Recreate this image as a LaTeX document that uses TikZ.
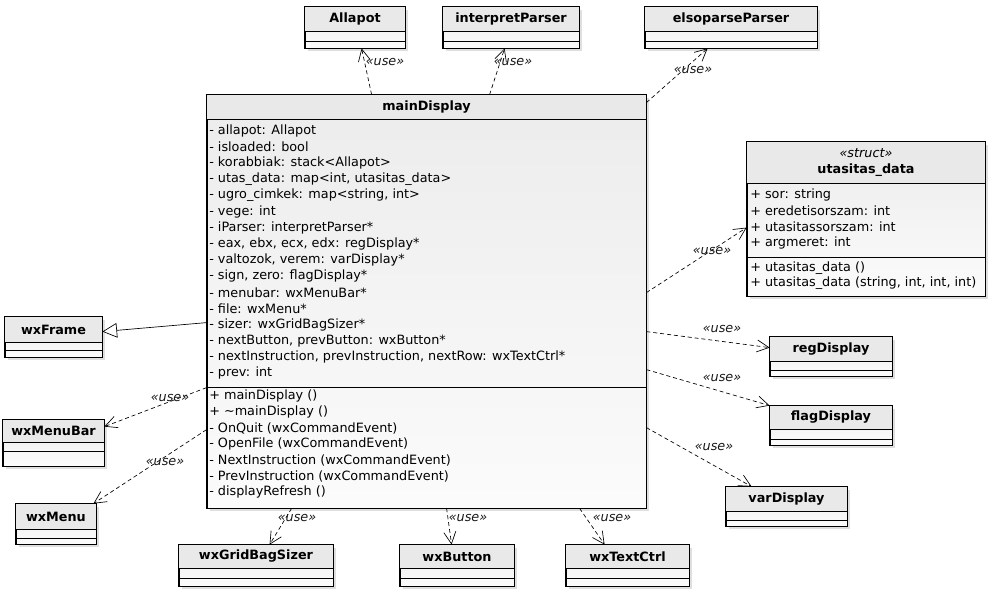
\documentclass[tikz,border=0pt]{standalone}
\usepackage{fontspec}
\setmainfont{DejaVu Sans}
\usepackage{tikz}
\usetikzlibrary{arrows.meta, calc, fit}

\newcommand{\umlfont}{\fontsize{9.6}{11.5}\selectfont}

\tikzset{
  classbox/.style={draw, line width=0.6pt, inner sep=0pt, top color=gray!15, bottom color=gray!3},
  hdrfill/.style={fill=gray!17},
  clsname/.style={font=\umlfont\bfseries, inner sep=0pt, align=center},
  member/.style={font=\umlfont, anchor=west, inner sep=0pt},
  stereo/.style={font=\umlfont\itshape, text=gray!20!black, inner sep=0.5pt},
  usedep/.style={line width=0.5pt, dash pattern=on 3pt off 2.2pt, -{Straight Barb[length=9pt, width=9pt]}},
  inherit/.style={line width=0.5pt, -{Triangle[open, length=11pt, width=11pt, fill=white]}},
}

% name, x1, y1, x2, header bottom, attr bottom, y2, title
\newcommand{\umlclass}[8]{%
  \fill[gray!50, opacity=0.5] (#2+3,#3+3) rectangle (#4+3,#7+3);
  \node[classbox, fit={(#2,#3) (#4,#7)}] (#1) {};
  \fill[hdrfill] (#2,#3) rectangle (#4,#5);
  \draw[line width=0.6pt] (#2,#5) -- (#4,#5) (#2,#6) -- (#4,#6);
  \draw[line width=0.6pt] (#1.north west) rectangle (#1.south east);
  \node[clsname] (#1-name) at ($(#2,#3)!0.5!(#4,#5)$) {#8};
}

\begin{document}
\begin{tikzpicture}[x=0.75pt, y=-0.75pt]
  \useasboundingbox (0,0) rectangle (995,589);

  % classes
  \umlclass{allapot}{305}{7}{405}{31}{41}{48}{Allapot}
  \umlclass{interp}{443}{7}{579}{31}{41}{48}{interpretParser}
  \umlclass{elso}{645}{7}{817}{31}{41}{48}{elsoparseParser}
  \umlclass{md}{207}{95}{646}{119}{387}{508}{mainDisplay}
  \umlclass{ut}{747}{142}{985}{183}{257}{296}{{\mdseries\itshape «struct»}\\[1pt]utasitas\_data}
  \umlclass{frame}{5}{317}{102}{342}{350}{357}{wxFrame}
  \umlclass{menubar}{3}{420}{104}{442}{451}{466}{wxMenuBar}
  \umlclass{menu}{16}{504}{96}{529}{538}{544}{wxMenu}
  \umlclass{reg}{770}{337}{892}{361}{370}{376}{regDisplay}
  \umlclass{flag}{770}{406}{892}{429}{439}{445}{flagDisplay}
  \umlclass{var}{726}{487}{847}{511}{520}{526}{varDisplay}
  \umlclass{gbs}{179}{545}{333}{568}{578}{586}{wxGridBagSizer}
  \umlclass{button}{400}{545}{514}{568}{578}{586}{wxButton}
  \umlclass{textctrl}{566}{545}{689}{568}{578}{586}{wxTextCtrl}

  % mainDisplay members
  \foreach \m [count=\i] in {{- allapot: Allapot}, {- isloaded: bool}, {- korabbiak: stack<Allapot>},
      {- utas\_data: map<int, utasitas\_data>}, {- ugro\_cimkek: map<string, int>}, {- vege: int},
      {- iParser: interpretParser*}, {- eax, ebx, ecx, edx: regDisplay*}, {- valtozok, verem: varDisplay*},
      {- sign, zero: flagDisplay*}, {- menubar: wxMenuBar*}, {- file: wxMenu*}, {- sizer: wxGridBagSizer*},
      {- nextButton, prevButton: wxButton*}, {- nextInstruction, prevInstruction, nextRow: wxTextCtrl*},
      {- prev: int}}
    \node[member] (md-a\i) at (209,131+16.13*\i-16.13) {\m};
  \foreach \m [count=\i] in {{+ mainDisplay ()}, {+ \textasciitilde mainDisplay ()}, {- OnQuit (wxCommandEvent)},
      {- OpenFile (wxCommandEvent)}, {- NextInstruction (wxCommandEvent)}, {- PrevInstruction (wxCommandEvent)},
      {- displayRefresh ()}}
    \node[member] (md-o\i) at (209,396+16*\i-16) {\m};

  % utasitas_data members
  \foreach \m [count=\i] in {{+ sor: string}, {+ eredetisorszam: int}, {+ utasitassorszam: int}, {+ argmeret: int}}
    \node[member] (ut-a\i) at (750,195+16*\i-16) {\m};
  \node[member] (ut-o1) at (750,268) {+ utasitas\_data ()};
  \node[member] (ut-o2) at (750,283) {+ utasitas\_data (string, int, int, int)};

  % dependencies
  \draw[usedep] ($(md.north west)+(165,0)$) -- ($(allapot.south west)+(57,0)$);
  \draw[usedep] ($(md.north west)+(283,0)$) -- ($(interp.south west)+(62,0)$);
  \draw[usedep] ($(md.north east)+(0,8)$) -- ($(elso.south west)+(63,0)$);
  \draw[usedep] ($(md.north east)+(0,198)$) -- ($(ut.north west)+(0,86)$);
  \draw[usedep] ($(md.north east)+(0,237)$) -- ($(reg.north west)+(0,11)$);
  \draw[usedep] ($(md.north east)+(0,275)$) -- (flag.north west);
  \draw[usedep] ($(md.north east)+(0,333)$) -- ($(var.north west)+(26,0)$);
  \draw[usedep] ($(md.north west)+(0,293)$) -- ($(menubar.north east)+(0,7)$);
  \draw[usedep] ($(md.north west)+(0,335)$) -- ($(menu.north east)+(-3,0)$);
  \draw[usedep] ($(md.south west)+(85,0)$) -- ($(gbs.north west)+(91,0)$);
  \draw[usedep] ($(md.south west)+(240,0)$) -- ($(button.north west)+(52,0)$);
  \draw[usedep] ($(md.south west)+(373,0)$) -- ($(textctrl.north west)+(39,0)$);
  % generalization
  \draw[inherit] ($(md.north west)+(0,228)$) -- ($(frame.north east)+(0,15)$);

  % stereotypes
  \node[stereo] (u-allapot) at (385,62) {«use»};
  \node[stereo] (u-interp) at (513,62) {«use»};
  \node[stereo] (u-elso) at (693,70) {«use»};
  \node[stereo] (u-ut) at (712,251) {«use»};
  \node[stereo] (u-reg) at (722,329) {«use»};
  \node[stereo] (u-flag) at (722,378) {«use»};
  \node[stereo] (u-var) at (714,447) {«use»};
  \node[stereo] (u-menubar) at (170,398) {«use»};
  \node[stereo] (u-menu) at (165,462) {«use»};
  \node[stereo] (u-gbs) at (297,518) {«use»};
  \node[stereo] (u-button) at (468,518) {«use»};
  \node[stereo] (u-textctrl) at (612,518) {«use»};
\end{tikzpicture}
\end{document}
